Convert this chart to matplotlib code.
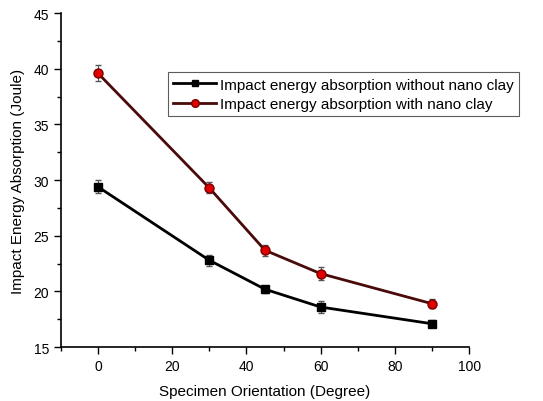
import numpy as np
import matplotlib
matplotlib.use("Agg")
import matplotlib.pyplot as plt
from matplotlib.ticker import MultipleLocator
from matplotlib.lines import Line2D

# datos
angulo = [0, 30, 45, 60, 90]
sin_nano = [29.4, 22.8, 20.2, 18.6, 17.1]
err_sin = [0.6, 0.5, 0.3, 0.5, 0.3]
con_nano = [39.6, 29.3, 23.7, 21.6, 18.9]
err_con = [0.7, 0.5, 0.5, 0.6, 0.4]

etiquetas = ["Impact energy absorption without nano clay",
             "Impact energy absorption with nano clay"]

plt.rcParams['font.family'] = ['Liberation Sans', 'DejaVu Sans']

fig = plt.figure(figsize=(5.43, 4.02), dpi=100)
ax = fig.add_axes([0.112, 0.134, 0.752, 0.831])

ax.errorbar(angulo, sin_nano, yerr=err_sin, color="black", lw=2,
            marker="s", markersize=6, markerfacecolor="black",
            ecolor="#555555", elinewidth=0.8, capsize=2.5)
ax.errorbar(angulo, con_nano, yerr=err_con, color="#4a0a0a", lw=2,
            marker="o", markersize=6.5, markerfacecolor="#e00000",
            markeredgecolor="#7a0000", ecolor="#555555", elinewidth=0.8,
            capsize=2.5)

ax.set_xlim(-10, 100)
ax.set_ylim(15, 45)
ax.xaxis.set_major_locator(MultipleLocator(20))
ax.xaxis.set_minor_locator(MultipleLocator(10))
ax.yaxis.set_major_locator(MultipleLocator(5))
ax.yaxis.set_minor_locator(MultipleLocator(2.5))
ax.tick_params(which="both", direction="out", labelsize=10, width=1)
ax.tick_params(which="major", length=5)
ax.tick_params(which="minor", length=3)
ax.spines['top'].set_visible(False)
ax.spines['right'].set_visible(False)
ax.spines['left'].set_linewidth(1.2)
ax.spines['bottom'].set_linewidth(1.2)

ax.set_xlabel("Specimen Orientation (Degree)", fontsize=11, labelpad=8)
ax.set_ylabel("Impact Energy Absorption (Joule)", fontsize=11, labelpad=6)

# manejadores de leyenda sin barras de error
h1 = Line2D([], [], color="black", lw=2, marker="s", markersize=5,
            markerfacecolor="black")
h2 = Line2D([], [], color="#4a0a0a", lw=2, marker="o", markersize=5.5,
            markerfacecolor="#e00000", markeredgecolor="#7a0000")
leg = fig.legend([h1, h2], etiquetas, loc="upper left",
                 bbox_to_anchor=(0.309, 0.818),
                 fontsize=11, frameon=True, fancybox=False,
                 edgecolor="#333333", handlelength=2.8, handletextpad=0.25,
                 borderpad=0.35, labelspacing=0.35, borderaxespad=0)
leg.get_frame().set_linewidth(0.8)

fig.savefig("out.png", dpi=100)
